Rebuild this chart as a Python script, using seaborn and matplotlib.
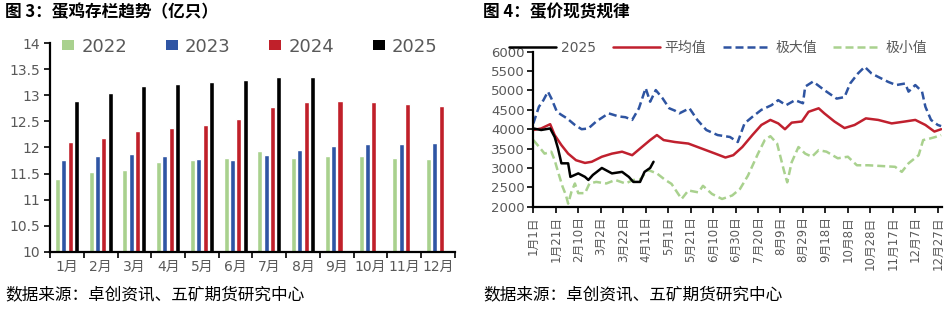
import numpy as np
import pandas as pd
import matplotlib
matplotlib.use("Agg")
import matplotlib.pyplot as plt
import seaborn as sns
from matplotlib.patches import Patch
from matplotlib.lines import Line2D

# ---------------- data: left chart (蛋鸡存栏, 亿只) ----------------
months = ["1月", "2月", "3月", "4月", "5月", "6月", "7月", "8月", "9月", "10月", "11月", "12月"]
years = ["2022", "2023", "2024", "2025"]
stock_2022 = [11.40, 11.52, 11.56, 11.72, 11.76, 11.79, 11.93, 11.80, 11.83, 11.83, 11.79, 11.78]
stock_2023 = [11.76, 11.83, 11.87, 11.84, 11.78, 11.76, 11.86, 11.95, 12.02, 12.06, 12.06, 12.09]
stock_2024 = [12.10, 12.18, 12.32, 12.38, 12.43, 12.54, 12.77, 12.88, 12.89, 12.87, 12.84, 12.80]
stock_2025 = [12.89, 13.05, 13.17, 13.21, 13.26, 13.30, 13.35, 13.36, np.nan, np.nan, np.nan, np.nan]
left_yticks = [10, 10.5, 11, 11.5, 12, 12.5, 13, 13.5, 14]

# ---------------- data: right chart (蛋价现货规律) ----------------
date_labels = ["1月1日", "1月21日", "2月10日", "3月2日", "3月22日", "4月11日", "5月1日",
               "5月21日", "6月10日", "6月30日", "7月20日", "8月9日", "8月29日", "9月18日",
               "10月8日", "10月28日", "11月17日", "12月7日", "12月27日"]
date_label_days = [0, 20, 40, 60, 80, 100, 120, 140, 160, 180, 200, 220, 240, 260,
                   280, 300, 320, 340, 360]

days_2025 = [0, 7, 15, 19, 22, 25, 31, 33, 40, 46, 49, 53, 61, 70, 79, 85, 89, 95, 99, 104, 107]
price_2025 = [4020, 3980, 4020, 3800, 3500, 3120, 3120, 2770, 2860, 2770, 2690, 2820, 3000,
              2860, 2900, 2770, 2640, 2640, 2900, 3000, 3160]

days_avg = [0, 7, 15, 19, 25, 31, 38, 46, 52, 61, 70, 79, 88, 97, 104, 110, 116, 126, 138, 150,
            162, 171, 178, 186, 195, 203, 211, 218, 224, 230, 239, 245, 254, 259, 268, 277, 286,
            296, 307, 319, 331, 340, 349, 357, 363]
price_avg = [3980, 4020, 4130, 3850, 3590, 3370, 3200, 3130, 3160, 3290, 3370, 3420, 3330, 3550,
             3720, 3850, 3720, 3670, 3630, 3500, 3370, 3270, 3330, 3540, 3850, 4110, 4240, 4150,
             4000, 4170, 4200, 4450, 4540, 4410, 4200, 4030, 4110, 4280, 4240, 4150, 4200, 4240,
             4110, 3940, 4000]

days_max = [0, 5, 9, 13, 16, 21, 25, 30, 37, 43, 49, 56, 67, 76, 82, 88, 94, 100, 104, 109, 115,
            121, 126, 130, 139, 146, 154, 164, 175, 182, 188, 195, 203, 212, 218, 225, 233, 240,
            242, 249, 259, 270, 277, 282, 289, 295, 301, 307, 316, 323, 331, 334, 340, 346, 349,
            354, 360, 363]
price_max = [4150, 4580, 4750, 4970, 4800, 4450, 4370, 4280, 4110, 4000, 4020, 4200, 4410, 4330,
             4310, 4240, 4540, 5060, 4710, 5010, 4800, 4540, 4480, 4410, 4540, 4240, 3980, 3850,
             3800, 3670, 4150, 4320, 4500, 4620, 4750, 4620, 4750, 4670, 5100, 5230, 5010, 4790,
             4830, 5180, 5440, 5610, 5440, 5350, 5220, 5140, 5180, 4970, 5140, 4970, 4580, 4240,
             4110, 4080]

days_min = [0, 5, 10, 16, 19, 22, 26, 29, 31, 34, 37, 40, 46, 50, 56, 65, 73, 82, 89, 95, 102,
            110, 117, 123, 129, 132, 138, 147, 151, 159, 168, 177, 184, 191, 200, 206, 211, 217,
            223, 226, 230, 236, 242, 248, 254, 261, 271, 280, 288, 298, 310, 322, 328, 334, 343,
            347, 353, 358, 363]
price_min = [3720, 3550, 3370, 3420, 3200, 2900, 2520, 2300, 2080, 2390, 2600, 2350, 2350, 2600,
             2640, 2600, 2690, 2600, 2690, 2700, 2950, 2860, 2700, 2590, 2330, 2200, 2420, 2370,
             2540, 2330, 2200, 2290, 2460, 2800, 3370, 3720, 3820, 3630, 2940, 2630, 3150, 3540,
             3370, 3290, 3460, 3420, 3250, 3290, 3070, 3070, 3050, 3030, 2900, 3120, 3330, 3720,
             3760, 3800, 3850]
right_yticks = [2000, 2500, 3000, 3500, 4000, 4500, 5000, 5500, 6000]

assert len(days_2025) == len(price_2025)
assert len(days_avg) == len(price_avg)
assert len(days_max) == len(price_max)
assert len(days_min) == len(price_min)

# ---------------- style ----------------
sns.set_theme(style="white")
plt.rcParams["font.family"] = ["DejaVu Sans", "Noto Sans CJK SC"]
plt.rcParams["axes.unicode_minus"] = False
GRAY = "#595959"
bar_colors = ["#A9D18E", "#2F55A4", "#C0202A", "#000000"]

fig = plt.figure(figsize=(9.51, 3.09), dpi=100)
fig.patch.set_facecolor("white")

# ---------------- left chart ----------------
ax1 = fig.add_axes([0.0526, 0.1854, 0.4258, 0.6747])
stock_series = {"2022": stock_2022, "2023": stock_2023, "2024": stock_2024, "2025": stock_2025}
df_stock = pd.DataFrame(
    [{"month": m, "year": y, "value": v}
     for y in years for m, v in zip(months, stock_series[y])]
)
sns.barplot(data=df_stock, x="month", y="value", hue="year", order=months, hue_order=years,
            palette=bar_colors, width=0.75, gap=0.2, errorbar=None, saturation=1,
            legend=False, ax=ax1)
ax1.set_ylim(10, 14)
ax1.set_xlim(-0.5, 11.5)
ax1.set_yticks(left_yticks)
ax1.set_yticklabels([f"{t:g}" for t in left_yticks])
ax1.set_xlabel("")
ax1.set_ylabel("")
ax1.set_xticks(np.arange(-0.5, 12, 1), minor=True)
ax1.tick_params(axis="x", which="major", length=0, labelsize=10, labelcolor=GRAY, pad=6)
ax1.tick_params(axis="x", which="minor", length=4, width=1.2, color="black", direction="out",
                bottom=True)
ax1.tick_params(axis="y", length=4, width=1.2, color="black", direction="out", left=True,
                labelsize=10, labelcolor=GRAY, pad=3)
for s in ["top", "right"]:
    ax1.spines[s].set_visible(False)
for s in ["left", "bottom"]:
    ax1.spines[s].set_color("black")
    ax1.spines[s].set_linewidth(1.6)

leg1 = ax1.legend([Patch(facecolor=c, edgecolor="none") for c in bar_colors], years,
                  loc="center", bbox_to_anchor=(250 / 951, 1 - 46.7 / 309),
                  bbox_transform=fig.transFigure, ncol=4, frameon=False, fontsize=13,
                  handlelength=0.65, handleheight=0.5, handletextpad=0.4, columnspacing=2.15,
                  labelcolor=GRAY)

# ---------------- right chart ----------------
ax2 = fig.add_axes([0.5608, 0.331, 0.4300, 0.5016])
RED = "#C0202E"
BLUE = "#2E54A1"
GREEN = "#A9D18E"
sns.lineplot(x=days_avg, y=price_avg, ax=ax2, color=RED, linewidth=1.8, sort=False,
             estimator=None)
sns.lineplot(x=days_max, y=price_max, ax=ax2, color=BLUE, linewidth=1.8, sort=False,
             estimator=None, linestyle=(0, (3.2, 1.6)))
sns.lineplot(x=days_min, y=price_min, ax=ax2, color=GREEN, linewidth=1.8, sort=False,
             estimator=None, linestyle=(0, (3.2, 1.6)))
sns.lineplot(x=days_2025, y=price_2025, ax=ax2, color="black", linewidth=1.8, sort=False,
             estimator=None)
ax2.set_xlim(0, 364)
ax2.set_ylim(2000, 6000)
ax2.set_yticks(right_yticks)
ax2.set_xticks(date_label_days)
ax2.set_xticklabels(date_labels, rotation=90)
ax2.tick_params(axis="x", length=4, width=1.2, color="black", direction="out", bottom=True,
                labelsize=8.5, labelcolor=GRAY, pad=3)
ax2.tick_params(axis="y", length=4, width=1.2, color="black", direction="out", left=True,
                labelsize=9.5, labelcolor=GRAY, pad=2)
for s in ["top", "right"]:
    ax2.spines[s].set_visible(False)
for s in ["left", "bottom"]:
    ax2.spines[s].set_color("black")
    ax2.spines[s].set_linewidth(1.6)

h2 = [Line2D([], [], color="black", lw=1.8),
      Line2D([], [], color=RED, lw=1.8),
      Line2D([], [], color=BLUE, lw=1.8, linestyle=(0, (3.2, 1.6))),
      Line2D([], [], color=GREEN, lw=1.8, linestyle=(0, (3.2, 1.6)))]
ax2.legend(h2, ["2025", "平均值", "极大值", "极小值"], loc="center",
           bbox_to_anchor=(718 / 951, 1 - 48.3 / 309), bbox_transform=fig.transFigure,
           ncol=4, frameon=False, fontsize=10, handlelength=3.4, handletextpad=0.35,
           columnspacing=1.2, labelcolor=GRAY)

# ---------------- titles & sources ----------------
cjk = ["Noto Sans CJK SC", "DejaVu Sans"]
fig.text(5 / 951, 1 - 12 / 309, "图 3：蛋鸡存栏趋势（亿只）", family=cjk, fontsize=12,
         fontweight="bold", va="center", ha="left", color="black")
fig.text(483 / 951, 1 - 12 / 309, "图 4：蛋价现货规律", family=cjk, fontsize=12,
         fontweight="bold", va="center", ha="left", color="black")
fig.text(5 / 951, 1 - 295 / 309, "数据来源：卓创资讯、五矿期货研究中心", family=cjk,
         fontsize=12, va="center", ha="left", color="black")
fig.text(483 / 951, 1 - 295 / 309, "数据来源：卓创资讯、五矿期货研究中心", family=cjk,
         fontsize=12, va="center", ha="left", color="black")

fig.savefig("out.png", dpi=100, facecolor="white")
